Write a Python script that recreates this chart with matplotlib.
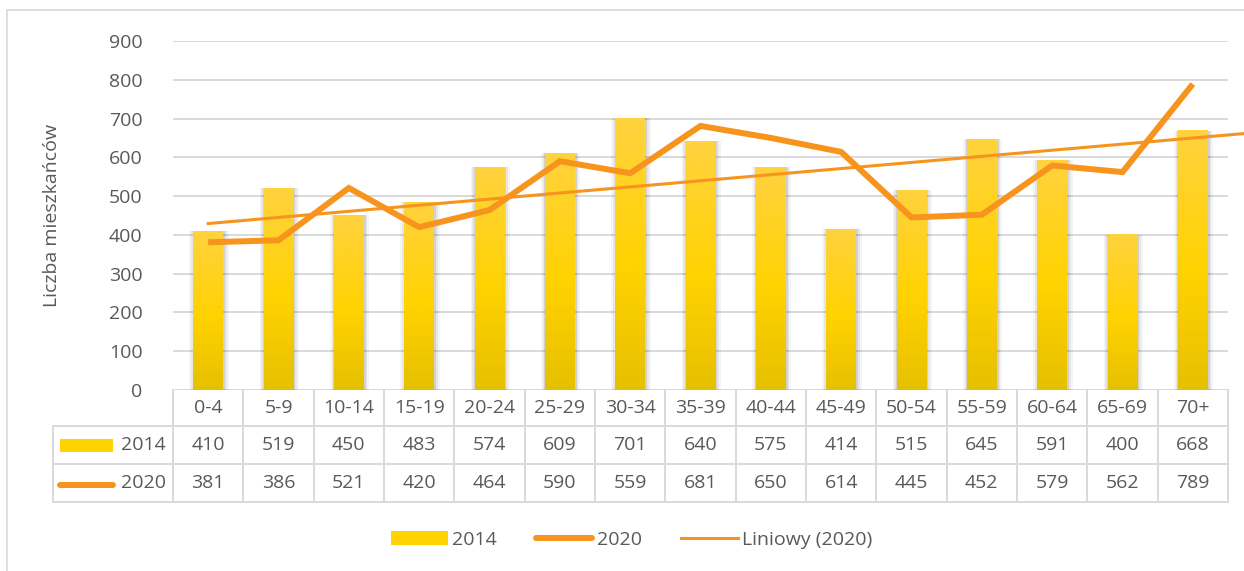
import numpy as np
import matplotlib
matplotlib.use("Agg")
import matplotlib.pyplot as plt
from matplotlib.patches import Rectangle
from matplotlib.lines import Line2D
from matplotlib.colors import LinearSegmentedColormap

# data
groups = ["0-4", "5-9", "10-14", "15-19", "20-24", "25-29", "30-34", "35-39",
          "40-44", "45-49", "50-54", "55-59", "60-64", "65-69", "70+"]
vals_2014 = [410, 519, 450, 483, 574, 609, 701, 640, 575, 414, 515, 645, 591, 400, 668]
vals_2020 = [381, 386, 521, 420, 464, 590, 559, 681, 650, 614, 445, 452, 579, 562, 789]
yticks = [0, 100, 200, 300, 400, 500, 600, 700, 800, 900]

TXT = "#595959"
GRID = "#D9D9D9"
ORANGE = "#F7941D"
FONT = "Open Sans"
FS = 14

plt.rcParams["font.family"] = [FONT, "DejaVu Sans"]

W, H = 1244, 571
fig = plt.figure(figsize=(W / 100, H / 100), dpi=100)

# plot area in pixels
left_px, right_px, top_px, bot_px = 173, 1228, 41, 390
ax = fig.add_axes([left_px / W, 1 - bot_px / H,
                   (right_px - left_px) / W, (bot_px - top_px) / H])
ax.set_xlim(-0.5, len(groups) - 0.5)
ax.set_ylim(0, 900)
for s in ax.spines.values():
    s.set_visible(False)
ax.set_xticks([])
ax.set_yticks(yticks)
ax.tick_params(axis="y", length=0, pad=22, labelsize=FS, labelcolor=TXT)
ax.grid(axis="y", color=GRID, linewidth=1.4)
ax.set_axisbelow(True)
ax.set_ylabel("Liczba mieszkańców", fontsize=FS, color=TXT, labelpad=34)

x = np.arange(len(groups))
px_unit = (right_px - left_px) / len(groups)
ax_h = bot_px - top_px

# bars with vertical gradient + soft shadow
cmap = LinearSegmentedColormap.from_list(
    "gold", [(0.0, "#E6C000"), (0.45, "#FFD200"), (1.0, "#FFD23F")])
grad = np.linspace(0, 1, 256).reshape(-1, 1)
bw = 0.42
for xi, v in zip(x, vals_2014):
    for grow, al in [(0.07, 0.04), (0.045, 0.06), (0.02, 0.09)]:
        ax.add_patch(Rectangle((xi - bw / 2 - grow + 0.01, 0), bw + 2 * grow, v + 1,
                               facecolor="#000000", alpha=al, edgecolor="none",
                               zorder=1.5))
    ax.imshow(grad, cmap=cmap, origin="lower", aspect="auto",
              extent=[xi - bw / 2, xi + bw / 2, 0, v], zorder=2)
ax.set_xlim(-0.5, len(groups) - 0.5)
ax.set_ylim(0, 900)

# 2020 line
ax.plot(x, vals_2020, color=ORANGE, linewidth=4.3, solid_joinstyle="miter",
        solid_capstyle="butt", zorder=4)

# linear trend
k, b = np.polyfit(x, vals_2020, 1)
xt = np.array([0, len(groups) - 0.25])
ax.plot(xt, k * xt + b, color=ORANGE, linewidth=2.2, zorder=3, clip_on=False)

# data table under the axis
xtr = ax.get_xaxis_transform()
def fy(py):
    return (bot_px - py) / ax_h

def dx(px):
    return -0.5 - (left_px - px) / px_unit

rows = [390, 426, 464, 502]
lx = dx(53)
lw = 1.4
for i in range(len(groups) + 1):
    ax.add_line(Line2D([i - 0.5, i - 0.5], [fy(390), fy(502)], transform=xtr,
                       color=GRID, linewidth=lw, clip_on=False))
ax.add_line(Line2D([lx, lx], [fy(426), fy(502)], transform=xtr,
                   color=GRID, linewidth=lw, clip_on=False))
for r in rows[1:]:
    ax.add_line(Line2D([lx, len(groups) - 0.5], [fy(r), fy(r)], transform=xtr,
                       color=GRID, linewidth=lw, clip_on=False))

for xi, g, a, c in zip(x, groups, vals_2014, vals_2020):
    ax.text(xi, fy(408), g, transform=xtr, ha="center", va="center",
            fontsize=FS, color=TXT)
    ax.text(xi, fy(445), str(a), transform=xtr, ha="center", va="center",
            fontsize=FS, color=TXT)
    ax.text(xi, fy(483), str(c), transform=xtr, ha="center", va="center",
            fontsize=FS, color=TXT)

ax.text(dx(166), fy(445), "2014", transform=xtr, ha="right", va="center",
        fontsize=FS, color=TXT)
ax.text(dx(166), fy(483), "2020", transform=xtr, ha="right", va="center",
        fontsize=FS, color=TXT)
ax.add_patch(Rectangle((dx(60), fy(452)), dx(113) - dx(60), fy(439) - fy(452),
                       transform=xtr, facecolor="#FFD200", edgecolor="none",
                       clip_on=False))
ax.add_line(Line2D([dx(60), dx(113)], [fy(485), fy(485)], transform=xtr,
                   color=ORANGE, linewidth=4.3, solid_capstyle="round",
                   clip_on=False))

# legend
handles = [Rectangle((0, 0), 1, 1, facecolor="#FFD200", edgecolor="none"),
           Line2D([], [], color=ORANGE, linewidth=4.3, solid_capstyle="round"),
           Line2D([], [], color=ORANGE, linewidth=2.2)]
fig.legend(handles, ["2014", "2020", "Liniowy (2020)"], loc="center",
           bbox_to_anchor=(0.508, 1 - 540 / H), ncol=3, frameon=False,
           fontsize=FS, labelcolor=TXT, handlelength=2.9, handleheight=0.7,
           handletextpad=0.25, columnspacing=2.0)

# chart border
fig.add_artist(Rectangle((7 / W, -0.1), 1.2, 1 - 10 / H + 0.1,
                         transform=fig.transFigure, facecolor="none",
                         edgecolor=GRID, linewidth=1.2))

fig.savefig("out.png", dpi=100)
